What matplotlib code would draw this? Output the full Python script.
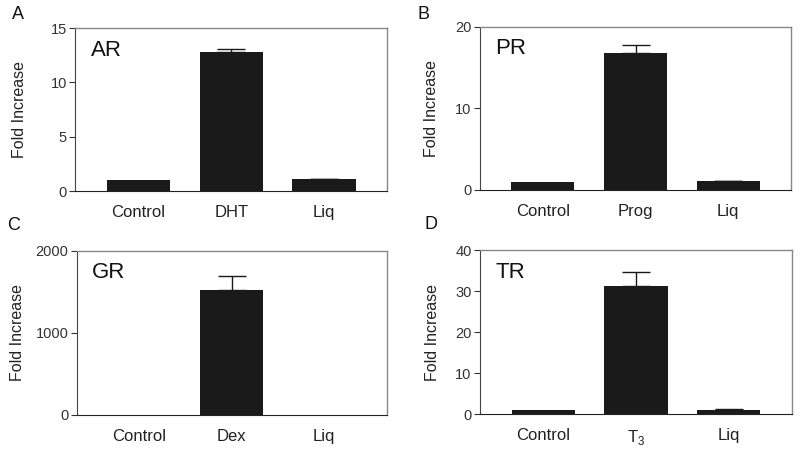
import numpy as np
import matplotlib
matplotlib.use('Agg')
import matplotlib.pyplot as plt

plt.rcParams['font.family'] = ['Liberation Sans', 'DejaVu Sans']
plt.rcParams['mathtext.fontset'] = 'custom'
plt.rcParams['mathtext.rm'] = 'Liberation Sans'

# panel data
receptors = ['AR', 'PR', 'GR', 'TR']
letters = ['A', 'B', 'C', 'D']
cat_ar = ['Control', 'DHT', 'Liq']
cat_pr = ['Control', 'Prog', 'Liq']
cat_gr = ['Control', 'Dex', 'Liq']
cat_tr = ['Control', r'T$_3$', 'Liq']

val_ar = [1.0, 12.8, 1.1]
err_ar = [0.0, 0.25, 0.06]
val_pr = [1.0, 16.8, 1.05]
err_pr = [0.0, 0.9, 0.05]
val_gr = [1.0, 1520, 1.0]
err_gr = [0.0, 170, 0.0]
val_tr = [1.0, 31.3, 1.1]
err_tr = [0.0, 3.4, 0.1]

ymax = [15, 20, 2000, 40]
yticks = [[0, 5, 10, 15], [0, 10, 20], [0, 1000, 2000], [0, 10, 20, 30, 40]]

cats = [cat_ar, cat_pr, cat_gr, cat_tr]
vals = [val_ar, val_pr, val_gr, val_tr]
errs = [err_ar, err_pr, err_gr, err_tr]

positions = [[0.094, 0.578, 0.39, 0.36],
             [0.600, 0.581, 0.389, 0.36],
             [0.096, 0.084, 0.3875, 0.362],
             [0.600, 0.086, 0.39, 0.362]]
letter_xy = [(0.015, 0.967), (0.522, 0.967), (0.009, 0.503), (0.531, 0.504)]
ylabel_x = [-0.154, -0.132, -0.166, -0.128]

fig = plt.figure(figsize=(8, 4.53), dpi=100)

for i in range(4):
    ax = fig.add_axes(positions[i])
    x = np.arange(3)
    v = np.array(vals[i])
    e = np.array(errs[i])
    ax.bar(x, v, 0.68, color='#1a1a1a', zorder=3)
    m = e > 0
    ax.errorbar(x[m], v[m], yerr=[np.zeros(m.sum()), e[m]], fmt='none',
                ecolor='#1a1a1a', elinewidth=1.0, capsize=10, capthick=1.0, zorder=2)
    ax.set_xlim(-0.68, 2.68)
    ax.set_ylim(0, ymax[i])
    ax.set_yticks(yticks[i])
    ax.set_xticks(x)
    ax.set_xticklabels(cats[i], fontsize=12, color='#222222')
    ax.tick_params(axis='x', length=0, pad=10)
    ax.tick_params(axis='y', length=4, width=0.8, labelsize=10.5, colors='#333333', pad=2)
    for s in ['top', 'right']:
        ax.spines[s].set_color('#888888')
        ax.spines[s].set_linewidth(1.0)
    ax.spines['left'].set_color('#444444')
    ax.spines['bottom'].set_color('#222222')
    ax.set_ylabel('Fold Increase', fontsize=11.5, color='#222222')
    ax.yaxis.set_label_coords(ylabel_x[i], 0.5)
    ax.text(0.05, 0.93, receptors[i], transform=ax.transAxes, fontsize=16,
            va='top', ha='left', color='#111111')
    fig.text(letter_xy[i][0], letter_xy[i][1], letters[i], fontsize=13,
             va='center', ha='left', color='#111111')

fig.savefig('out.png', dpi=100)
